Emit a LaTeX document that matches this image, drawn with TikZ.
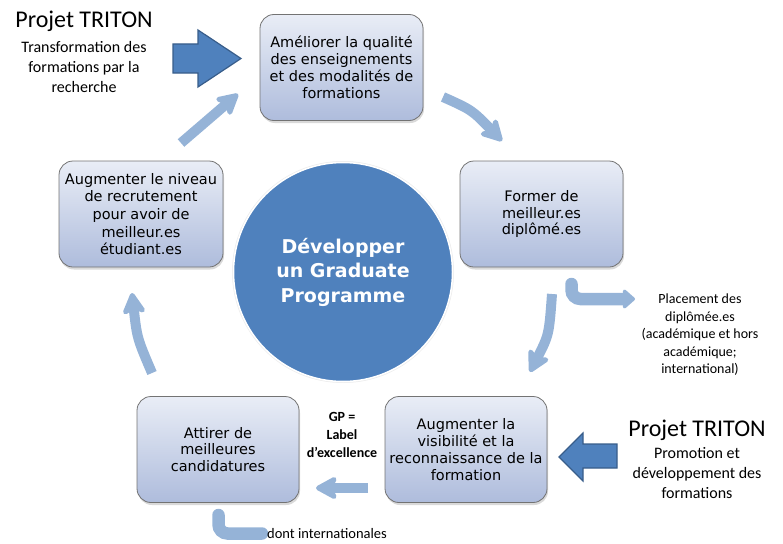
\documentclass[tikz,border=0pt]{standalone}
\usepackage{fontspec}
\setmainfont{Carlito}
\newfontfamily\boxfont{DejaVu Sans}
\usetikzlibrary{arrows.meta,shadows,positioning}
\definecolor{cyclearrow}{HTML}{95B3D7}
\definecolor{gpblue}{HTML}{4F81BD}
\definecolor{gpedge}{HTML}{385D8A}
\definecolor{boxtop}{HTML}{E9EDF6}
\definecolor{boxbottom}{HTML}{AEBCDC}

\begin{document}
\begin{tikzpicture}[x=1pt,y=-1pt,
    stepbox/.style={rectangle, rounded corners=14pt, draw=black!55, line width=0.8pt,
        top color=boxtop, bottom color=boxbottom,
        drop shadow={shadow xshift=1pt, shadow yshift=-2.5pt, opacity=0.3},
        minimum width=163pt, minimum height=106pt, inner sep=0pt, align=center,
        font=\boxfont\fontsize{14.5}{16.8}\selectfont},
    cycle/.style={draw=cyclearrow, line width=10pt,
        -{Stealth[width=28pt, length=26pt, inset=7pt, round]}},
    elbow/.style={draw=cyclearrow, line width=12.5pt, rounded corners=9pt},
    bigarrow/.style={fill=gpblue, draw=gpedge, line width=1.2pt},
    note/.style={align=center, inner sep=0pt}]
    \useasboundingbox (0,0) rectangle (783,543);

    \node[circle, minimum size=222pt, fill=black!7] (hubrim) at (343,272) {};
    \node[circle, minimum size=219pt, fill=gpblue, draw=white, line width=1.5pt,
        text=white, align=center, font=\boxfont\bfseries\fontsize{19}{24.5}\selectfont] (hub) at (343,272)
        {Développer\\un Graduate\\Programme};

    \node[stepbox] (qualite) at (341.5,67.5) {Améliorer la qualité\\des enseignements\\et des modalités de\\formations};
    \node[stepbox] (former) at (541.5,214) {Former de\\meilleur.es\\diplômé.es};
    \node[stepbox, minimum width=162pt] (visib) at (466,449.5) {Augmenter la\\visibilité et la\\reconnaissance de la\\formation};
    \node[stepbox, minimum width=162pt] (attirer) at (218,449.5) {Attirer de\\meilleures\\candidatures};
    \node[stepbox, minimum width=164pt, font=\boxfont\fontsize{14.5}{17.7}\selectfont] (niveau) at (141,214)
        {Augmenter le niveau\\de recrutement\\pour avoir de\\meilleur.es\\étudiant.es};

    \coordinate (c1s) at (181,143); \coordinate (c1e) at (238,94);
    \coordinate (c2s) at (443,97);  \coordinate (c2e) at (502,141);
    \coordinate (c3s) at (552,294); \coordinate (c3e) at (530,372);
    \coordinate (c4s) at (368,488); \coordinate (c4e) at (316,488);
    \coordinate (c5s) at (152,373); \coordinate (c5e) at (132,293);
    \draw[cycle] (c1s) -- (c1e);
    \draw[cycle] (c2s) .. controls (472,110) .. (c2e);
    \draw[cycle] (c3s) .. controls (549,335) .. (c3e);
    \draw[cycle] (c4s) -- (c4e);
    \draw[cycle] (c5s) .. controls (137,338) .. (c5e);

    \draw[elbow, line cap=round, -{Triangle[width=22pt, length=13pt, round]}] (571.5,284) |- (635,299);
    \draw[elbow, line cap=round] (218.5,515) |- (262,533.5);

    \draw[bigarrow] (173,44) -- (198,44) -- (198,30) -- (241,58.5) -- (198,87) -- (198,73) -- (173,73) -- cycle;
    \draw[bigarrow] (617,444) -- (583,444) -- (583,433) -- (559,457) -- (583,481) -- (583,468) -- (617,468) -- cycle;

    \node[anchor=base, inner sep=0pt, font=\fontsize{24}{28}\selectfont] (tritonA) at (84,28) {Projet TRITON};
    \node[note, font=\fontsize{16}{20}\selectfont] (tritonAsub) at (84,67) {Transformation des\\formations par la\\recherche};
    \node[anchor=base, inner sep=0pt, font=\fontsize{24}{28}\selectfont] (tritonB) at (697,436) {Projet TRITON};
    \node[note, font=\fontsize{16}{20}\selectfont] (tritonBsub) at (697,473) {Promotion et\\développement des\\formations};
    \node[note, font=\fontsize{14}{17.5}\selectfont] (placement) at (700,335)
        {Placement des\\diplômée.es\\(académique et hors\\académique;\\international)};
    \node[note, font=\bfseries\fontsize{14}{17.7}\selectfont] (label) at (342,435) {GP =\\Label\\d’excellence};
    \node[anchor=west, inner sep=0pt, font=\fontsize{14.5}{17}\selectfont] (intl) at (267,534) {dont internationales};
\end{tikzpicture}
\end{document}
